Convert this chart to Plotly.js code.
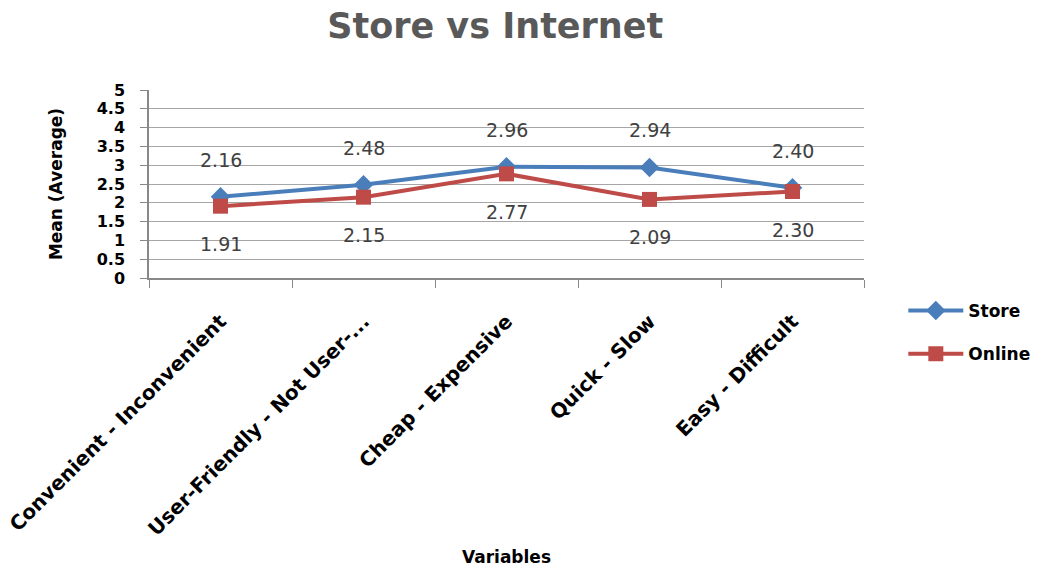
<!DOCTYPE html>
<html><head><meta charset="utf-8">
<script src="https://cdn.plot.ly/plotly-3.0.1.min.js"></script>
<style>html,body{margin:0;padding:0;background:#fff;}#chart{width:1047px;height:568px;}</style>
</head><body><div id="chart"></div>
<script>
const categories = ["Convenient - Inconvenient", "User-Friendly - Not User-...", "Cheap - Expensive", "Quick - Slow", "Easy - Difficult"];
const storeValues = [2.16, 2.48, 2.96, 2.94, 2.40];
const onlineValues = [1.91, 2.15, 2.77, 2.09, 2.30];
const yTicks = [0, 0.5, 1, 1.5, 2, 2.5, 3, 3.5, 4, 4.5, 5];
const yTickLabels = ["0", "0.5", "1", "1.5", "2", "2.5", "3", "3.5", "4", "4.5", "5"];

const blue = "#4A7EBB", red = "#BE4B48";
const boldFont = "DejaVu Sans";
const traces = [
  {x: categories, y: storeValues, name: "Store", type: "scatter", mode: "lines+markers",
   line: {color: blue, width: 4}, marker: {symbol: "diamond", size: 15, color: blue},
   legendgroup: "a"},
  {x: categories, y: onlineValues, name: "Online", type: "scatter", mode: "lines+markers",
   line: {color: red, width: 4}, marker: {symbol: "square", size: 15, color: red},
   legendgroup: "b"}
];
const annotations = [];
categories.forEach((c, i) => {
  annotations.push({x: c, y: storeValues[i], xref: "x", yref: "y", text: storeValues[i].toFixed(2),
    showarrow: false, yshift: 37, font: {family: "DejaVu Sans", size: 19, color: "#404040"}});
  annotations.push({x: c, y: onlineValues[i], xref: "x", yref: "y", text: onlineValues[i].toFixed(2),
    showarrow: false, yshift: -38, font: {family: "DejaVu Sans", size: 19, color: "#404040"}});
});
const layout = {
  width: 1047, height: 568,
  margin: {l: 149, r: 181, t: 90, b: 290},
  paper_bgcolor: "#fff", plot_bgcolor: "#fff",
  title: {text: "<b>Store vs Internet</b>", x: 0.473, xanchor: "center", y: 0.955, yanchor: "middle",
    font: {family: boldFont, size: 35, color: "#595959"}},
  xaxis: {type: "category", range: [-0.5, 4.5], tickson: "boundaries", ticks: "outside", ticklen: 8,
    tickcolor: "#888", showline: true, linecolor: "#888", linewidth: 1.5, showgrid: false,
    tickangle: -45, ticklabelstandoff: 22, tickfont: {family: boldFont, size: 20, color: "#000", weight: "bold"},
    title: {text: "<b>Variables</b>", standoff: 12, font: {family: boldFont, size: 17, color: "#000"}}},
  yaxis: {range: [0, 5], tickvals: yTicks, ticktext: yTickLabels, ticks: "outside", ticklen: 7,
    tickcolor: "#888", showline: true, linecolor: "#888", linewidth: 1.5, gridcolor: "#a6a6a6",
    zeroline: false, ticklabelstandoff: 12, tickfont: {family: boldFont, size: 16, color: "#000", weight: "bold"},
    title: {text: "<b>Mean (Average)</b>", standoff: 30, font: {family: boldFont, size: 17, color: "#000"}}},
  legend: {x: 1.055, xanchor: "left", y: -0.08, yanchor: "top", traceorder: "grouped", tracegroupgap: 18,
    itemwidth: 55, font: {family: boldFont, size: 17, color: "#000", weight: "bold"}, bgcolor: "rgba(0,0,0,0)"},
  annotations: annotations,
  showlegend: true
};
Plotly.newPlot("chart", traces, layout, {displayModeBar: false});
</script></body></html>
